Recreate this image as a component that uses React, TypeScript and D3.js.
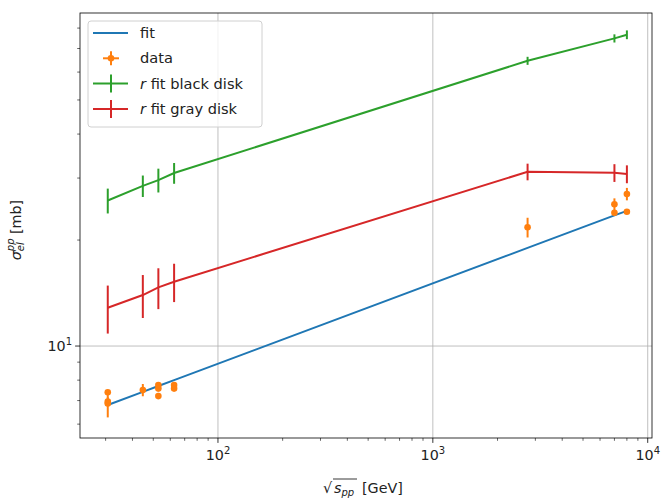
import React from 'react'
import * as d3 from 'd3'

// collision energies (GeV) where the fits are evaluated
const energies = [30.7, 44.7, 52.8, 62.5, 2760, 7000, 8000]
const fitValues = [6.8, 7.41, 7.7, 8.0, 19.0, 23.5, 24.2]
const blackDisk = [25.9, 28.5, 29.6, 31.0, 64.6, 74.8, 76.6]
const blackDiskErr = [2.1, 2.0, 2.3, 2.1, 1.7, 2.0, 2.2]
const grayDisk = [12.85, 13.96, 14.68, 15.23, 31.26, 31.05, 30.8]
const grayDiskErr = [2.0, 1.95, 1.95, 1.9, 1.7, 1.8, 1.8]

// measured points
const dataEnergy = [30.7, 30.7, 30.7, 44.7, 52.8, 52.8, 52.8, 62.5, 62.5, 2760, 7000, 7000, 8000, 8000]
const dataSigma = [7.39, 6.95, 6.87, 7.5, 7.75, 7.58, 7.21, 7.75, 7.58, 21.74, 25.27, 23.9, 27.03, 24.07]
const dataErr = [0.1, 0.2, 0.6, 0.3, 0.15, 0.15, 0.15, 0.15, 0.15, 1.4, 1.0, 0.3, 1.1, 0.3]

const xMajor = [100, 1000, 10000]
const yMajor = [10]

const C = { blue: '#1f77b4', orange: '#ff7f0e', green: '#2ca02c', red: '#d62728' }

function App () {
  const width = 662
  const height = 500
  const left = 80
  const right = 652
  const top = 13
  const bottom = 438
  const font = 'DejaVu Sans, sans-serif'

  const x = d3.scaleLog().domain([22.8, 10470]).range([left, right])
  const y = d3.scaleLog().domain([5.48, 88.3]).range([bottom, top])

  const line = d3.line<number>()
    .x((_, i) => x(energies[i]))
    .y(d => y(d))

  const xMinor: number[] = []
  for (const dec of [10, 100, 1000]) {
    for (let k = 2; k <= 9; k++) {
      const v = dec * k
      if (v > 22.8 && v < 10470) xMinor.push(v)
    }
  }
  const yMinor: number[] = []
  for (const dec of [1, 10]) {
    for (let k = 2; k <= 9; k++) {
      const v = dec * k
      if (v > 5.48 && v < 88.3 && v !== 10) yMinor.push(v)
    }
  }

  const errSeries = (vals: number[], errs: number[], color: string) => (
    <g>
      <path d={line(vals) || ''} fill='none' stroke={color} strokeWidth={2} />
      {vals.map((v, i) => (
        <line key={i} x1={x(energies[i])} x2={x(energies[i])} y1={y(v - errs[i])} y2={y(v + errs[i])}
          stroke={color} strokeWidth={2} />
      ))}
    </g>
  )

  const legendRows = [
    { label: 'fit', kind: 'line', color: C.blue },
    { label: 'data', kind: 'data', color: C.orange },
    { label: 'fit black disk', kind: 'err', color: C.green, r: true },
    { label: 'fit gray disk', kind: 'err', color: C.red, r: true }
  ]

  return (
    <svg width={width} height={height} style={{ position: 'absolute', left: 0, top: 0 }} fontFamily={font}>
      <rect width={width} height={height} fill='white' />
      {/* grid */}
      {xMajor.map(v => (
        <line key={'gx' + v} x1={x(v)} x2={x(v)} y1={top} y2={bottom} stroke='#b0b0b0' strokeWidth={0.8} />
      ))}
      {yMajor.map(v => (
        <line key={'gy' + v} x1={left} x2={right} y1={y(v)} y2={y(v)} stroke='#b0b0b0' strokeWidth={0.8} />
      ))}

      {/* fit */}
      <path d={line(fitValues) || ''} fill='none' stroke={C.blue} strokeWidth={2} />

      {/* data */}
      {dataSigma.map((v, i) => (
        <g key={'d' + i}>
          <line x1={x(dataEnergy[i])} x2={x(dataEnergy[i])} y1={y(v - dataErr[i])} y2={y(v + dataErr[i])}
            stroke={C.orange} strokeWidth={2} />
          <circle cx={x(dataEnergy[i])} cy={y(v)} r={3.3} fill={C.orange} />
        </g>
      ))}

      {errSeries(blackDisk, blackDiskErr, C.green)}
      {errSeries(grayDisk, grayDiskErr, C.red)}

      {/* spines */}
      <rect x={left} y={top} width={right - left} height={bottom - top} fill='none' stroke='black' strokeWidth={0.8} />

      {/* x ticks */}
      {xMajor.map(v => (
        <g key={'tx' + v}>
          <line x1={x(v)} x2={x(v)} y1={bottom} y2={bottom + 4.9} stroke='black' strokeWidth={0.8} />
          <text x={x(v)} y={bottom + 22} textAnchor='middle' fontSize={14.3} fill='#222'>
            10<tspan dy={-6} fontSize={10}>{Math.round(Math.log10(v))}</tspan>
          </text>
        </g>
      ))}
      {xMinor.map(v => (
        <line key={'mx' + v} x1={x(v)} x2={x(v)} y1={bottom} y2={bottom + 2.8} stroke='black' strokeWidth={0.6} />
      ))}

      {/* y ticks */}
      {yMajor.map(v => (
        <g key={'ty' + v}>
          <line x1={left} x2={left - 4.9} y1={y(v)} y2={y(v)} stroke='black' strokeWidth={0.8} />
          <text x={left - 8} y={y(v) + 5} textAnchor='end' fontSize={14.3} fill='#222'>
            10<tspan dy={-6} fontSize={10}>1</tspan>
          </text>
        </g>
      ))}
      {yMinor.map(v => (
        <line key={'my' + v} x1={left} x2={left - 2.8} y1={y(v)} y2={y(v)} stroke='black' strokeWidth={0.6} />
      ))}

      {/* x label */}
      <g fill='#222' fontSize={14.3}>
        <text x={323} y={493}>√</text>
        <line x1={333} x2={357} y1={479} y2={479} stroke='#222' strokeWidth={0.9} />
        <text x={334} y={493} fontStyle='italic'>s<tspan dy={3} fontSize={10}>pp</tspan></text>
        <text x={362} y={493}>[GeV]</text>
      </g>

      {/* y label */}
      <text transform='translate(21,230) rotate(-90)' textAnchor='middle' fontSize={14.3} fill='#222'>
        <tspan fontStyle='italic'>σ</tspan>
        <tspan fontSize={10} fontStyle='italic' dy={3}>el</tspan>
        <tspan fontSize={10} fontStyle='italic' dx={-9} dy={-10}>pp</tspan>
        <tspan dy={7}> [mb]</tspan>
      </text>

      {/* legend */}
      <rect x={88} y={21} width={174} height={106} rx={3} fill='white' fillOpacity={0.8} stroke='#d0d0d0' strokeWidth={1} />
      {legendRows.map((r, i) => {
        const cy = 33 + i * 25.3
        return (
          <g key={r.label}>
            {r.kind === 'line' && <line x1={93} x2={128} y1={cy} y2={cy} stroke={r.color} strokeWidth={2} />}
            {r.kind === 'data' && (
              <g>
                <line x1={103} x2={119} y1={cy} y2={cy} stroke={r.color} strokeWidth={2} />
                <line x1={111} x2={111} y1={cy - 7} y2={cy + 7} stroke={r.color} strokeWidth={2} />
                <circle cx={111} cy={cy} r={3.3} fill={r.color} />
              </g>
            )}
            {r.kind === 'err' && (
              <g>
                <line x1={93} x2={128} y1={cy} y2={cy} stroke={r.color} strokeWidth={2} />
                <line x1={111} x2={111} y1={cy - 9} y2={cy + 9} stroke={r.color} strokeWidth={2} />
              </g>
            )}
            <text x={140} y={cy + 5} fontSize={14.6} fill='#222'>
              {r.r && <tspan fontStyle='italic'>r </tspan>}{r.label}
            </text>
          </g>
        )
      })}
    </svg>
  )
}

export default App
